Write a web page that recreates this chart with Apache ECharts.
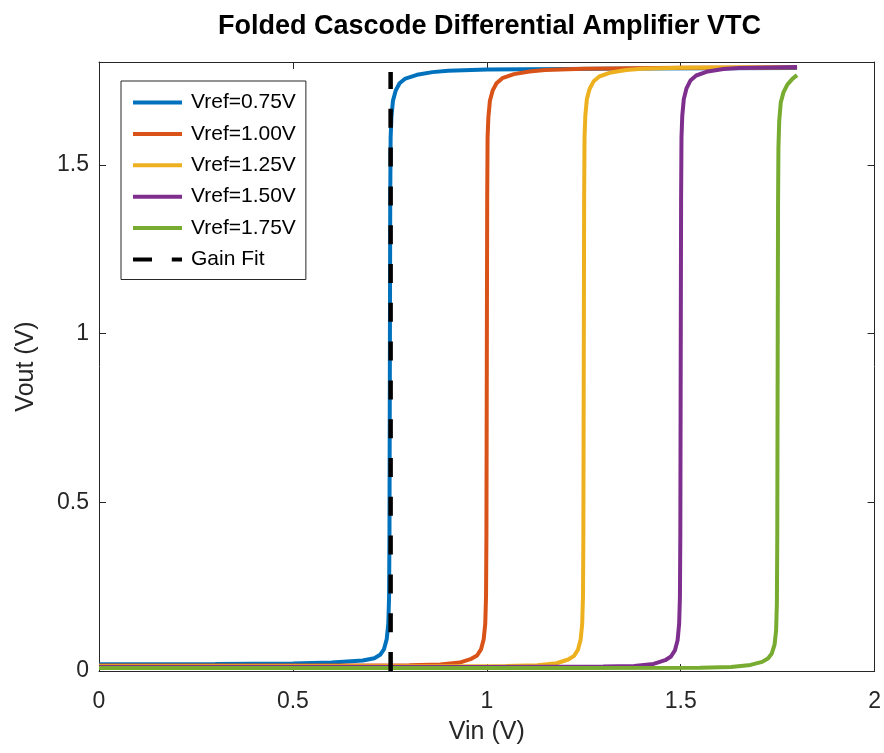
<!DOCTYPE html>
<html><head><meta charset="utf-8">
<script src="https://cdn.jsdelivr.net/npm/echarts@6/dist/echarts.min.js"></script>
<style>html,body{margin:0;padding:0;background:#fff}#c{width:884px;height:753px}</style>
</head><body><div id="c"></div>
<script>
const titleText = 'Folded Cascode Differential Amplifier VTC';
const xName = 'Vin (V)';
const yName = 'Vout (V)';
const seriesNames = ['Vref=0.75V','Vref=1.00V','Vref=1.25V','Vref=1.50V','Vref=1.75V','Gain Fit'];
const seriesColors = ['#0072BD','#D95319','#EDB120','#7E2F8E','#77AC30','#000000'];

const vref075 = [[0,0.020],[0.3,0.021],[0.5,0.022],[0.6,0.025],[0.68,0.031],[0.71,0.038],[0.725,0.048],[0.735,0.065],[0.742,0.095],[0.746,0.14],[0.748,0.22],[0.749,0.4],[0.75,0.9],[0.751,1.4],[0.752,1.58],[0.754,1.64],[0.758,1.69],[0.765,1.72],[0.775,1.742],[0.79,1.756],[0.82,1.767],[0.86,1.775],[0.9,1.779],[1.0,1.783],[1.4,1.786],[1.8,1.787]];
const vref100 = [[0,0.016],[0.5,0.016],[0.8,0.017],[0.88,0.019],[0.93,0.025],[0.96,0.036],[0.975,0.046],[0.985,0.064],[0.992,0.094],[0.996,0.14],[0.998,0.22],[0.999,0.4],[1.0,0.9],[1.001,1.4],[1.002,1.58],[1.004,1.64],[1.008,1.69],[1.015,1.72],[1.025,1.742],[1.04,1.757],[1.07,1.769],[1.11,1.777],[1.15,1.781],[1.25,1.785],[1.5,1.788],[1.8,1.789]];
const vref125 = [[0,0.014],[0.8,0.014],[1.05,0.015],[1.13,0.017],[1.18,0.023],[1.21,0.034],[1.225,0.045],[1.235,0.063],[1.242,0.093],[1.246,0.14],[1.248,0.22],[1.249,0.4],[1.25,0.9],[1.251,1.4],[1.252,1.58],[1.254,1.645],[1.258,1.695],[1.265,1.725],[1.275,1.747],[1.29,1.762],[1.32,1.774],[1.36,1.781],[1.4,1.785],[1.5,1.788],[1.8,1.790]];
const vref150 = [[0,0.012],[1.0,0.012],[1.3,0.013],[1.38,0.015],[1.43,0.021],[1.46,0.032],[1.475,0.043],[1.485,0.061],[1.492,0.091],[1.496,0.14],[1.498,0.22],[1.499,0.4],[1.5,0.9],[1.501,1.4],[1.502,1.58],[1.504,1.645],[1.508,1.695],[1.515,1.727],[1.525,1.75],[1.54,1.765],[1.57,1.777],[1.61,1.784],[1.65,1.787],[1.8,1.790]];
const vref175 = [[0,0.009],[1.2,0.009],[1.55,0.010],[1.63,0.012],[1.68,0.018],[1.71,0.027],[1.725,0.037],[1.735,0.052],[1.742,0.078],[1.746,0.12],[1.748,0.2],[1.749,0.4],[1.75,0.9],[1.751,1.38],[1.752,1.55],[1.754,1.63],[1.758,1.685],[1.765,1.715],[1.775,1.738],[1.788,1.755],[1.8,1.766]];
const gainFit = [[0.752,0],[0.752,1.775]];

const xTicks = {min:0, max:2, interval:0.5};
const yTicks = {min:0, max:1.805, interval:0.5};

const chart = echarts.init(document.getElementById('c'));
const font = 'Liberation Sans, Helvetica, Arial, sans-serif';
const axisColor = '#262626';
const allData = [vref075, vref100, vref125, vref150, vref175, gainFit];

const series = allData.map((d,i)=>({
  name: seriesNames[i],
  type: 'line',
  data: d,
  showSymbol: false,
  symbol: 'none',
  smooth: false,
  animation: false,
  z: 2+i,
  lineStyle: i===5 ? {color: seriesColors[i], width: 4.5, type: [19,19.8]} : {color: seriesColors[i], width: 4},
  itemStyle: {color: seriesColors[i]}
}));

chart.setOption({
  animation: false,
  backgroundColor: '#fff',
  title: {
    text: titleText, left: 213, top: 8,
    textStyle: {fontFamily: font, fontWeight: 'bold', fontSize: 27, color: '#000'}
  },
  grid: {left: 99, right: 8, top: 62, bottom: 82, containLabel: false},
  legend: {
    orient: 'vertical', left: 121, top: 81,
    data: seriesNames,
    itemWidth: 49, itemHeight: 21, itemGap: 10.4,
    padding: [11, 10, 9.5, 10],
    borderColor: '#262626', borderWidth: 1, backgroundColor: '#fff',
    itemStyle: {opacity: 0, borderWidth: 0},
    lineStyle: {width: 4},
    textStyle: {fontFamily: font, fontSize: 21, lineHeight: 21, color: '#000', padding: [0,0,0,4]}
  },
  xAxis: [{
    type: 'value', min: xTicks.min, max: xTicks.max, interval: xTicks.interval,
    name: xName, nameLocation: 'middle', nameGap: 49,
    nameTextStyle: {fontFamily: font, fontSize: 25, color: axisColor},
    axisLine: {show: true, onZero: false, lineStyle: {color: axisColor, width: 1}},
    axisTick: {show: true, inside: true, length: 7, lineStyle: {color: axisColor}},
    axisLabel: {margin: 19, fontFamily: font, fontSize: 23, color: axisColor},
    splitLine: {show: false}
  },{
    type: 'value', position: 'top', min: xTicks.min, max: xTicks.max, interval: xTicks.interval,
    axisLine: {show: true, onZero: false, lineStyle: {color: axisColor, width: 1}},
    axisTick: {show: true, inside: true, length: 7, lineStyle: {color: axisColor}},
    axisLabel: {show: false}, splitLine: {show: false}
  }],
  yAxis: [{
    type: 'value', min: yTicks.min, max: yTicks.max, interval: yTicks.interval,
    name: yName, nameLocation: 'middle', nameGap: 60, nameRotate: 90,
    nameTextStyle: {fontFamily: font, fontSize: 25, color: axisColor},
    axisLine: {show: true, onZero: false, lineStyle: {color: axisColor, width: 1}},
    axisTick: {show: true, inside: true, length: 7, lineStyle: {color: axisColor}},
    axisLabel: {margin: 10, fontFamily: font, fontSize: 23, color: axisColor, showMaxLabel: false},
    splitLine: {show: false}
  },{
    type: 'value', position: 'right', min: yTicks.min, max: yTicks.max, interval: yTicks.interval,
    axisLine: {show: true, onZero: false, lineStyle: {color: axisColor, width: 1}},
    axisTick: {show: true, inside: true, length: 7, lineStyle: {color: axisColor}},
    axisLabel: {show: false}, splitLine: {show: false}
  }],
  series: series
});
</script></body></html>
